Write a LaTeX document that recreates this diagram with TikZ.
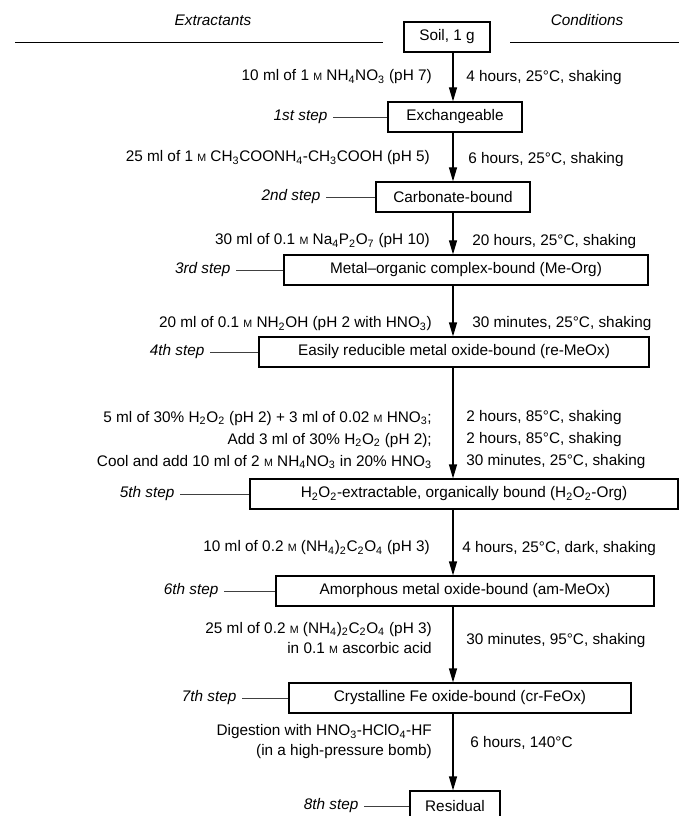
\documentclass[tikz,border=0pt]{standalone}
\usepackage{fontspec}
\setmainfont{Liberation Sans}
\usetikzlibrary{arrows.meta, positioning}

\newcommand{\molar}{{\fontsize{8}{8}\selectfont M}}
\newcommand{\chsub}[1]{\textsubscript{#1}}

\begin{document}
\begin{tikzpicture}[x=0.75pt, y=-0.75pt,
    font=\fontsize{11.5}{15}\selectfont,
    box/.style={draw, line width=1.4pt, minimum height=22pt, inner sep=2pt},
    flow/.style={line width=0.9pt, -{Triangle[length=10.5pt, width=6pt]}},
    steplbl/.style={font=\fontsize{11.5}{15}\selectfont\itshape, anchor=east, inner xsep=4pt},
    tick/.style={line width=0.5pt, black!75},
    extr/.style={anchor=east, align=right, inner sep=0pt},
    cond/.style={anchor=west, align=left, inner sep=0pt}]

    \clip (0,0) rectangle (679,816);

    % Header
    \node[font=\fontsize{11.5}{15}\selectfont\itshape] (hext) at (213,20) {Extractants};
    \node[font=\fontsize{11.5}{15}\selectfont\itshape] (hcond) at (587,20) {Conditions};
    \coordinate (hl1) at (15,42);
    \coordinate (hl2) at (383,42);
    \coordinate (hr1) at (510,42);
    \coordinate (hr2) at (679,42);
    \draw[tick, black] (hl1) -- (hl2);
    \draw[tick, black] (hr1) -- (hr2);

    % Fractions
    \node[box, minimum width=64pt] (soil) at (447,37) {Soil, 1 g};
    \node[box, minimum width=100pt] (exch) at (455,117) {Exchangeable};
    \node[box, minimum width=115pt] (carb) at (453,197) {Carbonate-bound};
    \node[box, minimum width=273pt] (morg) at (466,270) {Metal--organic complex-bound (Me-Org)};
    \node[box, minimum width=293pt] (remox) at (454,352) {Easily reducible metal oxide-bound (re-MeOx)};
    \node[box, minimum width=321pt] (horg) at (464,494)
        {H\chsub{2}O\chsub{2}-extractable, organically bound (H\chsub{2}O\chsub{2}-Org)};
    \node[box, minimum width=284pt] (ammox) at (465,591) {Amorphous metal oxide-bound (am-MeOx)};
    \node[box, minimum width=257pt] (crfe) at (460,698) {Crystalline Fe oxide-bound (cr-FeOx)};
    \node[box, minimum width=68pt] (resid) at (455,806) {Residual};

    % Main flow
    \coordinate (ax) at (453,0);
    \draw[flow] (soil.south -| ax) -- (exch.north -| ax);
    \draw[flow] (exch.south -| ax) -- (carb.north -| ax);
    \draw[flow] (carb.south -| ax) -- (morg.north -| ax);
    \draw[flow] (morg.south -| ax) -- (remox.north -| ax);
    \draw[flow] (remox.south -| ax) -- (horg.north -| ax);
    \draw[flow] (horg.south -| ax) -- (ammox.north -| ax);
    \draw[flow] (ammox.south -| ax) -- (crfe.north -| ax);
    \draw[flow] (crfe.south -| ax) -- (resid.north -| ax);

    % Steps
    \node[steplbl] (s1) at (333,117) {1st step};
    \node[steplbl] (s2) at (326,197) {2nd step};
    \node[steplbl] (s3) at (236,270) {3rd step};
    \node[steplbl] (s4) at (210,352) {4th step};
    \node[steplbl] (s5) at (180,494) {5th step};
    \node[steplbl] (s6) at (224,591) {6th step};
    \node[steplbl] (s7) at (242,698) {7th step};
    \node[steplbl] (s8) at (364,806) {8th step};
    \draw[tick] (s1) -- (exch);
    \draw[tick] (s2) -- (carb);
    \draw[tick] (s3) -- (morg);
    \draw[tick] (s4) -- (remox);
    \draw[tick] (s5) -- (horg);
    \draw[tick] (s6) -- (ammox);
    \draw[tick] (s7) -- (crfe);
    \draw[tick] (s8) -- (resid);

    % Extractants
    \node[extr] (e1) at (432,77) {10 ml of 1 \molar\ NH\chsub{4}NO\chsub{3} (pH 7)};
    \node[extr] (e2) at (430,158) {25 ml of 1 \molar\ CH\chsub{3}COONH\chsub{4}-CH\chsub{3}COOH (pH 5)};
    \node[extr] (e3) at (430,241) {30 ml of 0.1 \molar\ Na\chsub{4}P\chsub{2}O\chsub{7} (pH 10)};
    \node[extr] (e4) at (432,324) {20 ml of 0.1 \molar\ NH\chsub{2}OH (pH 2 with HNO\chsub{3})};
    \node[extr] (e5) at (432,440) {5 ml of 30\% H\chsub{2}O\chsub{2} (pH 2) + 3 ml of 0.02 \molar\ HNO\chsub{3};\\[1.5pt]
        Add 3 ml of 30\% H\chsub{2}O\chsub{2} (pH 2);\\[1.5pt]
        Cool and add 10 ml of 2 \molar\ NH\chsub{4}NO\chsub{3} in 20\% HNO\chsub{3}};
    \node[extr] (e6) at (430,548) {10 ml of 0.2 \molar\ (NH\chsub{4})\chsub{2}C\chsub{2}O\chsub{4} (pH 3)};
    \node[extr] (e7) at (432,638) {25 ml of 0.2 \molar\ (NH\chsub{4})\chsub{2}C\chsub{2}O\chsub{4} (pH 3)\\
        in 0.1 \molar\ ascorbic acid};
    \node[extr] (e8) at (432,742) {Digestion with HNO\chsub{3}-HClO\chsub{4}-HF\\
        (in a high-pressure bomb)};

    % Conditions
    \node[cond] (c1) at (466,78) {4 hours, 25°C, shaking};
    \node[cond] (c2) at (468,160) {6 hours, 25°C, shaking};
    \node[cond] (c3) at (472,242) {20 hours, 25°C, shaking};
    \node[cond] (c4) at (472,324) {30 minutes, 25°C, shaking};
    \node[cond] (c5) at (466,440) {2 hours, 85°C, shaking\\[1.5pt]
        2 hours, 85°C, shaking\\[1.5pt]
        30 minutes, 25°C, shaking};
    \node[cond] (c6) at (462,549) {4 hours, 25°C, dark, shaking};
    \node[cond] (c7) at (466,641) {30 minutes, 95°C, shaking};
    \node[cond] (c8) at (470,743) {6 hours, 140°C};
\end{tikzpicture}
\end{document}
